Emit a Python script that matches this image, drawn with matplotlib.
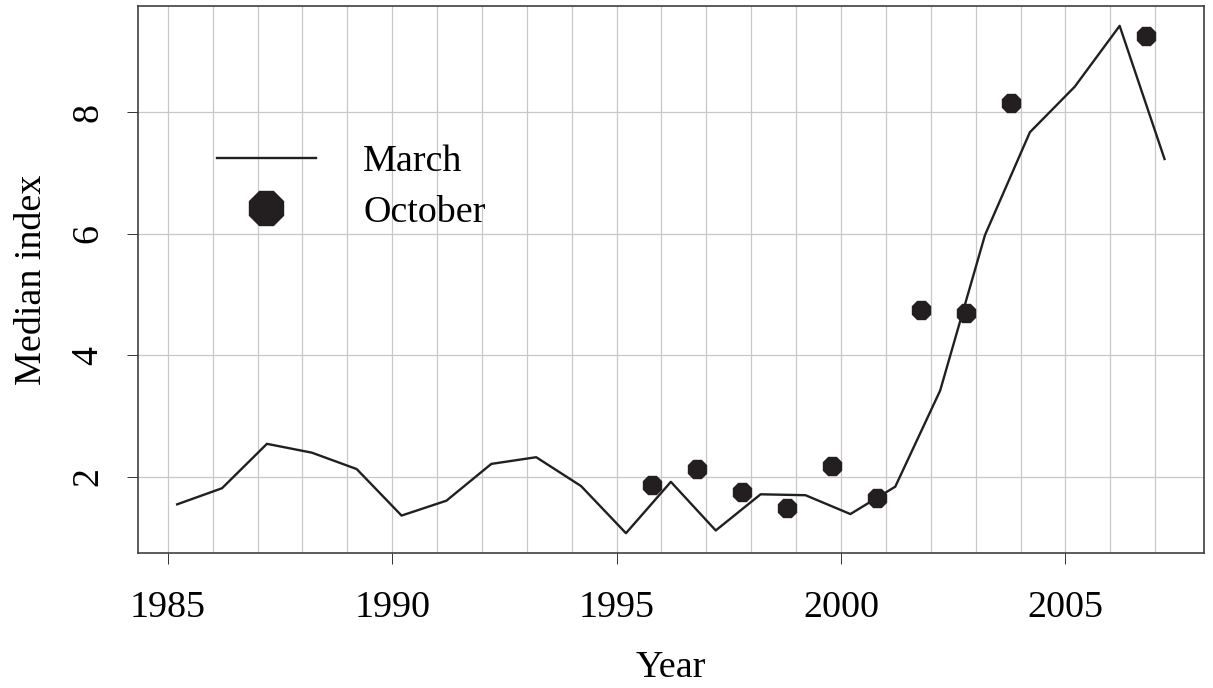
import numpy as np
import matplotlib
matplotlib.use("Agg")
import matplotlib.pyplot as plt
from matplotlib.lines import Line2D

# Median index by year: March series (line) and October series (points)
march_years = list(range(1985, 2008))
march_values = [1.55, 1.815, 2.545, 2.40, 2.13, 1.365, 1.61, 2.215, 2.325, 1.85,
                1.075, 1.92, 1.12, 1.715, 1.70, 1.39, 1.84, 3.42, 5.98, 7.67,
                8.42, 9.42, 7.23]
october_years = [1995, 1996, 1997, 1998, 1999, 2000, 2001, 2002, 2003, 2006]
october_values = [1.86, 2.13, 1.755, 1.485, 2.18, 1.65, 4.745, 4.69, 8.15, 9.26]

x_ticks = [1985, 1990, 1995, 2000, 2005]
y_ticks = [2, 4, 6, 8]

# observations sit mid-month within each year
march_x = np.array(march_years) + 2.5 / 12
october_x = np.array(october_years) + 9.5 / 12

plt.rcParams["font.family"] = ["Liberation Serif", "DejaVu Serif"]
FS = 27.4
ink = "#231f20"

fig = plt.figure(figsize=(12.13, 6.88), dpi=100)
ax = fig.add_axes([0.1135, 0.1955, 0.9926 - 0.1135, 0.9919 - 0.1955])

# axis limits extended by 4% of the data range on each side
def padded(lo, hi, f=0.04):
    d = (hi - lo) * f
    return lo - d, hi + d

ax.set_xlim(*padded(march_x.min(), march_x.max()))
ax.set_ylim(*padded(min(march_values), max(march_values)))

# background grid: one vertical line per year, horizontal at y ticks
for yr in range(1985, 2008):
    ax.axvline(yr, color="#c8c8c8", lw=0.9, zorder=0)
for yv in y_ticks:
    ax.axhline(yv, color="#c8c8c8", lw=0.9, zorder=0)

ax.plot(march_x, march_values, color=ink, lw=1.7, zorder=3)
ax.plot(october_x, october_values, ls="none", marker="8", ms=13.5,
        color=ink, mec=ink, zorder=4)

ax.set_xticks(x_ticks)
ax.set_yticks(y_ticks)
ax.set_xticklabels([str(t) for t in x_ticks], fontsize=FS)
ax.set_yticklabels([str(t) for t in y_ticks], fontsize=FS, rotation=90,
                   va="center")
ax.tick_params(axis="both", direction="out", length=8, width=0.7,
               color="#333333")
ax.tick_params(axis="x", pad=19)
ax.tick_params(axis="y", pad=15)

for sp in ax.spines.values():
    sp.set_color("#404040")
    sp.set_linewidth(1.2)

ax.set_xlabel("Year", fontsize=FS, labelpad=18)
ax.set_ylabel("Median index", fontsize=FS, labelpad=16)

handles = [Line2D([], [], color=ink, lw=1.7),
           Line2D([], [], ls="none", marker="8", ms=27, color=ink, mec=ink)]
leg = ax.legend(handles, ["March", "October"], loc="upper left",
                bbox_to_anchor=(0.074, 0.746), frameon=False, fontsize=FS,
                handlelength=2.6, handletextpad=1.25, labelspacing=0.41,
                borderaxespad=0, borderpad=0)

fig.savefig("out.png", dpi=100)
